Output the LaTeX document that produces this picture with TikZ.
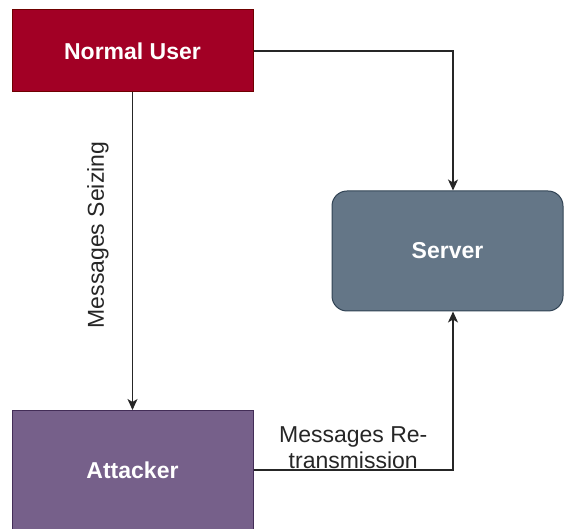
\documentclass[tikz,border=0pt]{standalone}
\usepackage{fontspec}
\setmainfont{Liberation Sans}
\usetikzlibrary{calc,arrows.meta}

\definecolor{userfill}{HTML}{A20025}
\definecolor{userline}{HTML}{6F0000}
\definecolor{srvfill}{HTML}{647687}
\definecolor{srvline}{HTML}{314354}
\definecolor{attfill}{HTML}{76608A}
\definecolor{attline}{HTML}{432D57}

\begin{document}
\begin{tikzpicture}[x=1pt, y=1pt,
    box/.style={minimum width=241pt, inner sep=0pt, line width=1pt,
      text=white, font=\fontsize{23}{26}\selectfont\bfseries},
    lbl/.style={font=\fontsize{23}{26}\selectfont, text=black!85, align=center},
    link/.style={line width=1.3pt, draw=black!85,
      -{Stealth[length=11pt, width=10pt, inset=3pt]}}]
  \useasboundingbox (0, 0) rectangle (564, 529);

  % the three parties
  \node[box, fill=userfill, draw=userline, minimum height=82pt]
    (user) at (132.5, 478) {Normal User};
  \node[box, fill=srvfill, draw=srvline, minimum width=231pt,
    minimum height=120pt, rounded corners=15pt]
    (server) at (447.5, 278) {Server};
  \node[box, fill=attfill, draw=attline, minimum height=119pt]
    (attacker) at (132.5, 59) {Attacker};

  % arrows enter the server a little right of its middle
  \coordinate (srvtop) at ($(server.north)+(5.5, 0)$);
  \coordinate (srvbot) at ($(server.south)+(5.5, 0)$);

  \draw[link] (user.east) -| (srvtop);
  \draw[link] (user.south) -- (attacker.north);
  \draw[link] (attacker.east) -| (srvbot);

  \node[lbl, rotate=90] (seize) at (98, 294) {Messages Seizing};
  \node[lbl, anchor=south, inner sep=1pt]
    (resend) at ($(attacker.east)!0.5!(attacker.east -| srvbot)$)
    {Messages Re-\\transmission};
\end{tikzpicture}
\end{document}
